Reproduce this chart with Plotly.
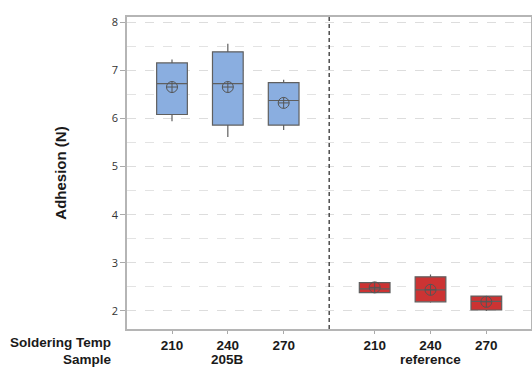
import plotly.graph_objects as go

# ---- data ----
samples = ["205B", "205B", "205B", "reference", "reference", "reference"]
temps = ["210", "240", "270", "210", "240", "270"]
q1 = [6.08, 5.86, 5.86, 2.38, 2.19, 2.02]
median = [6.72, 6.72, 6.37, 2.46, 2.44, 2.20]
q3 = [7.15, 7.38, 6.74, 2.59, 2.71, 2.31]
low = [5.94, 5.61, 5.76, 2.37, 2.17, 2.00]
high = [7.22, 7.55, 6.80, 2.60, 2.76, 2.32]
mean = [6.65, 6.65, 6.32, 2.49, 2.44, 2.19]
group_names = ["205B", "reference"]
group_colors = {"205B": "#8aaee0", "reference": "#cc3333"}

# positions: within-group index plus group offset
group_gap = 3.63
xpos = []
for s, t in zip(samples, temps):
    g = group_names.index(s)
    i = [tt for ss, tt in zip(samples, temps) if ss == s].index(t)
    xpos.append(i + g * group_gap)

W, H = 532, 367
ML, MR, MT, MB = 127, 1, 17, 38
pw = W - ML - MR
ph = H - MT - MB


def px_y(y):
    return 1 - (y - MT) / ph


def px_x(x):
    return (x - ML) / pw


fig = go.Figure()
for g in group_names:
    idx = [k for k, s in enumerate(samples) if s == g]
    fig.add_trace(go.Box(
        x=[xpos[k] for k in idx],
        q1=[q1[k] for k in idx],
        median=[median[k] for k in idx],
        q3=[q3[k] for k in idx],
        lowerfence=[low[k] for k in idx],
        upperfence=[high[k] for k in idx],
        fillcolor=group_colors[g],
        line=dict(color="#5f5f5f", width=1.2),
        whiskerwidth=0,
        width=0.55,
        boxpoints=False,
        showlegend=False,
        hoverinfo="skip",
    ))

fig.add_trace(go.Scatter(
    x=xpos, y=mean, mode="markers",
    marker=dict(symbol="circle-cross-open", size=11, color="#555555", line=dict(width=1)),
    showlegend=False, hoverinfo="skip",
))

divider_x = (xpos[2] + xpos[3]) / 2
fig.add_shape(type="line", xref="x", yref="paper", x0=divider_x, x1=divider_x, y0=0, y1=1,
              line=dict(color="#222222", width=1.2, dash="4px,3px"))

font_bold = dict(family="Liberation Sans, Arial, sans-serif", size=13.5, color="#1a1a1a", weight="bold")

# group labels
for g in group_names:
    idx = [k for k, s in enumerate(samples) if s == g]
    cx = sum(xpos[k] for k in idx) / len(idx)
    fig.add_annotation(x=cx, xref="x", y=px_y(359), yref="paper", text=g, showarrow=False,
                       font=font_bold, yanchor="middle", borderpad=0)

fig.add_annotation(x=px_x(113), xref="paper", y=px_y(342), yref="paper", text="Soldering Temp",
                   showarrow=False, font=font_bold, xanchor="right", yanchor="middle")
fig.add_annotation(x=px_x(113), xref="paper", y=px_y(359), yref="paper", text="Sample",
                   showarrow=False, font=font_bold, xanchor="right", yanchor="middle", borderpad=0)

fig.update_layout(
    width=W, height=H,
    margin=dict(l=ML, r=MR, t=MT, b=MB, autoexpand=False),
    paper_bgcolor="white", plot_bgcolor="white",
    xaxis=dict(
        range=[-0.806, 6.43],
        tickmode="array", tickvals=xpos, ticktext=temps,
        tickfont=dict(family="Liberation Sans, Arial, sans-serif", size=13.5, color="#1a1a1a", weight="bold"),
        ticks="outside", ticklen=3, tickcolor="#aaaaaa",
        showgrid=False, zeroline=False,
        showline=True, linecolor="#b5b5b5", linewidth=1.5, mirror=True,
    ),
    yaxis=dict(
        range=[1.626, 8.104],
        tickmode="array", tickvals=[2, 3, 4, 5, 6, 7, 8],
        tickfont=dict(family="Open Sans, sans-serif", size=11, color="#333333"),
        ticks="outside", ticklen=5, tickcolor="#aaaaaa",
        showgrid=True, gridcolor="#dddddd", griddash="dash", gridwidth=1,
        minor=dict(tickvals=[2.5, 3.5, 4.5, 5.5, 6.5, 7.5], showgrid=True,
                   gridcolor="#e3e3e3", griddash="dash", gridwidth=1),
        zeroline=False,
        showline=True, linecolor="#b5b5b5", linewidth=1.5, mirror=True,
        title=dict(text="Adhesion (N)", standoff=42,
                   font=dict(family="Liberation Sans, Arial, sans-serif", size=15, color="#1a1a1a", weight="bold")),
    ),
)

fig.write_html("out.html", config={"displayModeBar": False},
               post_script="document.body.style.margin='0';document.body.style.overflow='hidden';")
